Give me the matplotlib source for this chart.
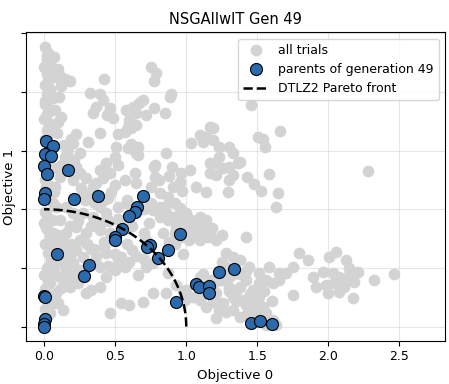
import numpy as np
import matplotlib.pyplot as plt

# all evaluated trials (objective 0, objective 1)
trials_x = [
    # streak along objective 0 ~ 0
    0.01, 0.03, 0.02, 0.04, 0.00, 0.05, 0.02, 0.03, 0.01, 0.04, 0.02, 0.06, 0.01, 0.03, 0.02, 0.00,
    0.04, 0.02, 0.03, 0.01, 0.05, 0.02, 0.00, 0.03, 0.01, 0.04, 0.02, 0.06, 0.01, 0.03, 0.00, 0.02,
    0.04, 0.01, 0.03, 0.05, 0.02, 0.00, 0.03, 0.01, 0.02, 0.04, 0.01, 0.03, 0.00, 0.02, 0.05, 0.01,
    # upper left
    0.11, 0.18, 0.15, 0.09, 0.42, 0.105, 0.04, 0.122, 0.098, 0.04, 0.222, 0.309, 0.204, 0.169, 0.25,
    0.39, 0.52, 0.504, 0.59, 0.66, 0.778, 0.438, 0.39, 0.461, 0.415, 0.368, 0.297, 0.25, 0.227, 0.157,
    0.112, 0.52, 0.496, 0.637, 0.567, 0.496, 0.649, 0.754, 0.813, 0.871, 0.918, 0.953,
    0.14, 0.16, 0.21, 0.19, 0.08, 0.07,
    0.08, 0.10, 0.07, 0.12, 0.06, 0.09, 0.15, 0.12, 0.20, 0.26, 0.32, 0.36, 0.42, 0.47, 0.52, 0.58,
    # upper middle
    0.754, 0.789, 0.77, 0.326, 0.39, 0.415, 0.368, 0.344, 0.461, 0.44, 0.485, 0.578, 0.625, 0.648,
    0.693, 0.67, 0.719, 0.77, 0.852, 0.883, 0.895, 0.60, 0.59, 0.65, 0.567, 0.61,
    0.61, 0.66, 0.65, 0.77, 0.86, 0.90, 0.78, 0.81, 0.953, 0.906,
    # upper right
    1.457, 1.187, 1.17, 1.094, 1.14, 1.117, 1.187, 1.234, 1.304, 1.328, 1.234, 1.211, 1.164, 1.258,
    1.304, 1.363, 1.328, 1.304, 1.211, 1.164, 1.035, 1.028, 0.965, 0.876, 0.972, 1.07, 1.14, 1.293,
    1.426, 1.475, 1.527, 1.581, 1.644, 1.632, 1.508, 1.538, 1.557, 1.663, 2.276, 1.375,
    # middle band
    1.0, 1.035, 1.07, 1.117, 1.164, 1.211, 1.14, 1.094, 1.047, 1.0, 0.93, 0.871, 0.813, 0.766, 0.813,
    0.859, 0.906, 0.965, 0.965, 1.094, 1.422,
    0.75, 0.70, 0.85, 0.95, 1.02, 1.08, 1.18, 1.25, 1.15, 0.92, 0.88, 1.02,
    0.274, 0.344, 0.286, 0.39, 0.438, 0.344, 0.274, 0.204, 0.157, 0.112, 0.063, 0.157, 0.227, 0.297,
    0.39, 0.461, 0.25, 0.227, 0.157, 0.136, 0.204, 0.274, 0.368, 0.438, 0.54, 0.618, 0.567, 0.496,
    0.438, 0.39, 0.66, 0.719, 0.766, 0.871,
    0.55, 0.62, 0.70, 0.74, 0.68, 0.58, 0.45, 0.35, 0.30, 0.33, 0.42, 0.72, 0.84, 0.92, 0.98,
    0.62, 0.52, 0.46, 0.40, 0.33, 0.24, 0.18, 0.10, 0.08, 0.13, 0.19, 0.30, 0.35, 0.42, 0.50, 0.58,
    0.65, 0.70, 0.60, 0.52, 0.45, 0.25, 0.17, 0.12, 0.06, 0.10, 0.05, 0.07,
    # lower right
    0.93, 1.0, 1.094, 1.211, 1.187, 1.234, 1.328, 1.375, 1.422, 1.468, 1.398, 1.328, 1.304, 1.375,
    1.422, 1.468, 1.515, 1.538, 1.562, 1.609, 1.632, 1.562, 1.492, 1.281, 1.328, 1.375, 1.44, 1.51,
    1.585, 1.655, 1.70, 1.749, 1.562, 1.609, 1.515, 1.281, 1.25, 1.30, 1.35, 1.40, 1.45, 1.26,
    1.18, 1.12, 1.25, 1.33, 1.42, 1.50,
    1.10, 1.20, 1.30, 1.35, 1.42, 1.48, 1.52, 1.45, 1.55, 1.60, 1.65, 1.38, 1.28, 1.22, 1.05, 0.98,
    # far right cluster
    1.796, 1.855, 1.749, 2.007, 2.054, 2.124, 2.147, 1.96, 2.03, 2.077, 2.136, 2.159, 2.206, 2.183,
    2.112, 2.042, 1.995, 2.077, 2.171, 2.323, 2.459, 1.89, 1.913, 1.984, 2.147,
    # lower middle
    0.695, 0.60, 0.543, 0.461, 0.766, 0.859, 0.988, 1.094, 1.14, 1.211, 1.094,
    # lower left
    0.063, 0.11, 0.157, 0.04, 0.087, 0.133, 0.075, 0.04, 0.18, 0.239, 0.297, 0.333, 0.39, 0.087,
    0.04, 0.016, 0.063, 0.016, 0.087, 0.016, 0.075, 0.10, 0.13, 0.06, 0.18, 0.22,
]
trials_y = [
    2.38, 2.33, 2.28, 2.25, 2.21, 2.18, 2.15, 2.10, 2.06, 2.03, 1.98, 1.95, 1.90, 1.86, 1.81, 1.77,
    1.73, 1.68, 1.64, 1.60, 1.50, 1.42, 1.36, 1.30, 1.25, 1.20, 1.12, 1.05, 0.98, 0.93, 0.88, 0.83,
    0.76, 0.70, 0.63, 0.57, 0.50, 0.44, 0.38, 0.32, 0.27, 0.20, 0.15, 0.10, 0.05, 2.31, 2.12, 1.92,
    2.14, 2.09, 2.11, 2.13, 2.11, 1.96, 2.02, 1.79, 1.747, 1.70, 1.64, 1.577, 1.562, 1.52, 1.477,
    1.648, 1.639, 1.534, 1.52, 1.463, 1.378, 1.392, 1.335, 1.307, 1.264, 1.222, 1.264, 1.307, 1.364, 1.392,
    1.278, 1.378, 1.449, 1.307, 1.25, 1.207, 1.227, 1.193, 1.136, 1.108, 1.051, 1.009,
    1.55, 1.48, 1.42, 1.60, 1.35, 1.15,
    1.85, 2.20, 2.30, 2.05, 1.72, 1.65, 1.45, 1.38, 1.25, 1.18, 1.12, 1.05, 1.08, 1.15, 1.02, 1.08,
    2.216, 2.159, 2.09, 1.994, 1.98, 1.93, 1.875, 1.818, 1.861, 1.80, 1.776, 1.847, 1.875, 1.818,
    1.932, 1.903, 1.804, 1.861, 1.824, 1.96, 1.98, 1.76, 1.70, 1.72, 1.66, 1.69,
    1.56, 1.534, 1.477, 1.364, 1.477, 1.364, 1.278, 1.25, 1.236, 1.193,
    1.886, 1.69, 1.70, 1.634, 1.62, 1.577, 1.59, 1.534, 1.534, 1.477, 1.449, 1.392, 1.392, 1.35,
    1.364, 1.392, 1.293, 1.25, 1.293, 1.307, 1.562, 1.335, 1.307, 1.287, 1.156, 1.193, 1.15, 1.15,
    1.278, 1.213, 1.156, 1.298, 1.136, 1.023, 1.619, 1.597, 1.534, 1.67, 1.324, 1.406,
    0.966, 0.909, 0.852, 0.824, 0.795, 0.739, 0.909, 0.938, 0.795, 0.824, 0.852, 0.909, 0.938, 0.994, 1.023,
    0.966, 0.938, 0.909, 0.767, 0.739, 0.761,
    1.05, 1.00, 1.02, 0.95, 0.88, 0.90, 0.84, 0.78, 0.76, 0.80, 0.72, 0.74,
    1.136, 1.193, 1.08, 1.023, 0.966, 0.938, 0.966, 0.966, 1.023, 0.909, 0.795, 0.795, 0.852, 0.795,
    0.824, 0.795, 0.739, 0.653, 0.653, 0.54, 0.54, 0.597, 0.597, 0.625, 0.597, 0.653, 0.511, 0.483,
    0.426, 0.511, 0.44, 0.511, 0.54, 0.455,
    0.90, 0.86, 0.80, 0.88, 1.00, 1.05, 1.10, 1.06, 0.70, 0.66, 0.72, 0.74, 0.80, 0.70, 0.62,
    0.98, 0.92, 0.90, 0.88, 0.86, 0.90, 0.86, 0.78, 0.68, 0.72, 0.70, 0.70, 0.66, 0.68, 0.62, 0.70,
    0.60, 0.58, 0.55, 0.55, 0.52, 0.48, 0.40, 0.33, 0.25, 0.20, 0.56, 0.48,
    0.355, 0.3125, 0.284, 0.284, 0.213, 0.142, 0.142, 0.085, 0.099, 0.17, 0.227, 0.256, 0.341, 0.341,
    0.398, 0.3125, 0.256, 0.17, 0.114, 0.057, 0.014, 0.014, 0.043, 0.511, 0.597, 0.568, 0.511, 0.455,
    0.511, 0.455, 0.455, 0.511, 0.398, 0.369, 0.369, 0.625, 0.40, 0.42, 0.30, 0.22, 0.25, 0.20,
    0.40, 0.45, 0.55, 0.45, 0.47, 0.20,
    0.42, 0.38, 0.30, 0.22, 0.18, 0.12, 0.08, 0.28, 0.30, 0.22, 0.40, 0.45, 0.12, 0.20, 0.25, 0.30,
    0.625, 0.568, 0.27, 0.597, 0.639, 0.568, 0.497, 0.469, 0.455, 0.426, 0.398, 0.426, 0.469, 0.384,
    0.341, 0.369, 0.284, 0.298, 0.241, 0.398, 0.446, 0.426, 0.341, 0.355, 0.44,
    0.213, 0.185, 0.199, 0.114, 0.284, 0.284, 0.227, 0.227, 0.17, 0.071, 0.355,
    0.455, 0.426, 0.483, 0.369, 0.284, 0.142, 0.199, 0.114, 0.341, 0.369, 0.284, 0.3125, 0.341, 0.597,
    0.71, 0.852, 0.909, 0.966, 1.023, 1.193, 1.193, 0.72, 0.60, 0.55, 0.60, 0.45,
]

# parents of generation 49
parents_x = [0.016, 0.063, 0.009, 0.047, 0.0, 0.021, 0.166, 0.005, 0.0, 0.213, 0.382, 0.698,
             0.656, 0.637, 0.595, 0.546, 0.496, 0.496, 0.956, 0.747, 0.726, 0.869, 0.803, 0.089,
             0.314, 0.279, 0.0, 0.005, 0.009, 0.0, 0.0, 0.925, 1.234, 1.335, 1.066, 1.087,
             1.157, 1.157, 1.457, 1.522, 1.602]
parents_y = [1.585, 1.543, 1.472, 1.455, 1.372, 1.304, 1.332, 1.142, 1.085, 1.088, 1.111, 1.116,
             1.023, 0.980, 0.946, 0.835, 0.767, 0.739, 0.787, 0.696, 0.676, 0.653, 0.582, 0.616,
             0.523, 0.429, 0.261, 0.25, 0.0625, 0.023, 0.0, 0.213, 0.469, 0.494, 0.366, 0.341,
             0.349, 0.284, 0.026, 0.051, 0.023]

# true Pareto front of DTLZ2 (quarter circle)
theta = np.linspace(0, np.pi / 2, 100)
front_x = np.cos(theta)
front_y = np.sin(theta)

fig, ax = plt.subplots(figsize=(4.49, 3.84), dpi=100)
fig.subplots_adjust(left=0.057, right=0.991, bottom=0.113, top=0.916)

ax.scatter(trials_x, trials_y, s=55, color='#d3d3d3', label='all trials', zorder=2)
ax.scatter(parents_x, parents_y, s=75, color='#2a6aad', edgecolors='black', linewidths=0.8,
           label='parents of generation 49', zorder=3)
ax.plot(front_x, front_y, 'k--', linewidth=1.8, label='DTLZ2 Pareto front', zorder=4)

ax.set_xlim(-0.13, 2.82)
ax.set_ylim(-0.12, 2.51)
ax.set_xticks([0.0, 0.5, 1.0, 1.5, 2.0, 2.5])
ax.set_yticks([0.0, 0.5, 1.0, 1.5, 2.0, 2.5])
ax.set_yticklabels([])
ax.tick_params(labelsize=9)
ax.grid(True, alpha=0.3)
ax.set_axisbelow(True)

ax.set_xlabel('Objective 0', fontsize=9.5)
ax.set_ylabel('Objective 1', fontsize=9.5)
ax.yaxis.set_label_coords(-0.024, 0.5)
ax.set_title('NSGAIIwIT Gen 49', fontsize=10.5)
ax.legend(loc='upper right', fontsize=9)

fig.savefig('out.png')
